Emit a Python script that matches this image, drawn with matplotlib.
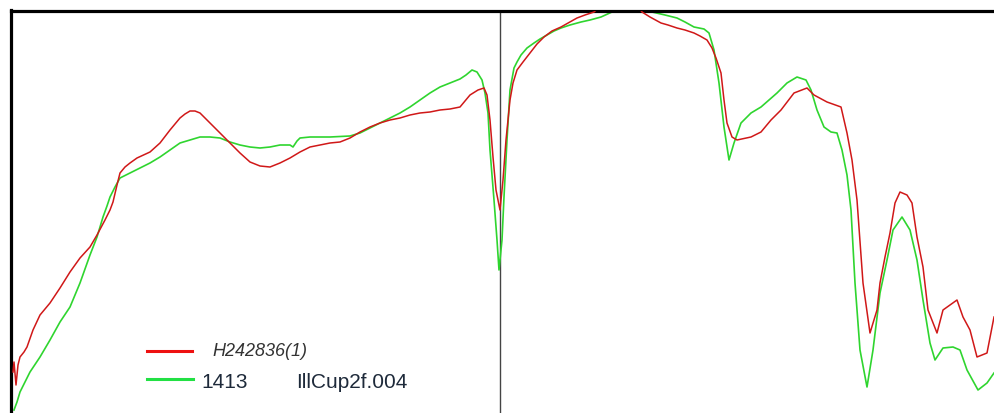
import matplotlib
matplotlib.use("Agg")
import matplotlib.pyplot as plt
from matplotlib.lines import Line2D

# values (x position, depth from the top frame)
red_x = [13, 14, 16, 18, 20, 24, 27, 33, 40, 50, 60, 70, 80, 90, 97, 105, 110,
         113, 117, 120, 125, 130, 137, 150, 160, 170, 180, 185, 190, 195, 200,
         210, 220, 230, 240, 250, 260, 270, 280, 290, 300, 310, 320, 330, 340,
         350, 360, 370, 380, 390, 400, 410, 420, 430, 440, 450, 460, 470, 478,
         484, 487, 490, 493, 496, 500, 503, 506, 510, 513, 517, 523, 530, 537,
         544, 552, 561, 570, 577, 585, 594, 605, 620, 635, 642, 650, 661, 668,
         677, 685, 694, 700, 707, 712, 716, 721, 724, 727, 732, 737, 751, 761,
         771, 781, 794, 807, 814, 827, 841, 847, 852, 857, 863, 870, 877, 880,
         885, 890, 895, 900, 907, 912, 917, 923, 928, 937, 943, 950, 957, 963,
         970, 977, 987, 994]
red_y = [372, 362, 385, 365, 357, 352, 347, 330, 315, 303, 288, 272, 258, 247,
         235, 220, 210, 202, 185, 173, 167, 163, 158, 152, 143, 130, 118, 114,
         111, 111, 113, 123, 133, 143, 153, 162, 166, 167, 163, 158, 152, 147,
         145, 143, 142, 138, 132, 127, 123, 120, 118, 115, 113, 112, 110, 109,
         107, 95, 90, 88, 95, 120, 157, 190, 210, 180, 140, 100, 83, 70, 62,
         53, 44, 37, 31, 27, 22, 18, 15, 12, 2, -3, 2, 12, 17, 23, 25, 28, 30,
         33, 36, 40, 48, 58, 73, 100, 123, 137, 140, 137, 132, 120, 110, 93,
         88, 95, 102, 107, 133, 160, 200, 283, 333, 310, 283, 257, 233, 203,
         192, 195, 203, 237, 267, 310, 333, 310, 305, 300, 317, 330, 357, 353,
         317]

green_x = [14, 17, 20, 30, 40, 50, 60, 70, 80, 90, 97, 103, 107, 110, 115, 120,
           130, 140, 150, 160, 170, 180, 190, 200, 210, 220, 230, 240, 250, 260,
           270, 280, 290, 293, 297, 300, 310, 330, 350, 360, 370, 380, 390, 400,
           410, 420, 430, 440, 450, 460, 466, 472, 477, 482, 485, 488, 490, 494,
           497, 499, 502, 504, 507, 510, 514, 517, 521, 527, 534, 540, 547, 554,
           561, 570, 581, 590, 601, 612, 625, 640, 652, 665, 677, 685, 694, 704,
           709, 714, 719, 724, 729, 734, 741, 751, 761, 777, 787, 797, 806, 811,
           817, 824, 831, 837, 842, 847, 851, 855, 860, 867, 873, 880, 887, 893,
           902, 910, 917, 923, 930, 935, 943, 953, 960, 967, 978, 987, 994]
green_y = [410, 402, 392, 372, 357, 340, 322, 307, 283, 255, 237, 217, 206, 197,
           187, 178, 173, 168, 163, 157, 150, 143, 140, 137, 137, 138, 142, 145,
           147, 148, 147, 145, 145, 147, 141, 138, 137, 137, 136, 133, 128, 123,
           118, 113, 107, 100, 93, 87, 83, 79, 75, 70, 72, 80, 93, 113, 150,
           200, 240, 270, 240, 197, 140, 90, 68, 62, 55, 48, 43, 39, 35, 31, 28,
           25, 22, 20, 17, 12, 3, 3, 12, 15, 18, 22, 27, 29, 33, 50, 83, 127,
           160, 143, 123, 113, 107, 93, 83, 77, 80, 90, 110, 127, 132, 133, 150,
           175, 210, 283, 350, 387, 350, 293, 260, 230, 217, 230, 260, 300, 343,
           360, 348, 347, 350, 370, 390, 383, 373]

marker_x = 500
red_label = "H242836(1)"
green_labels = ["1413", "IllCup2f.004"]

W, H = 994, 413
fig = plt.figure(figsize=(W / 100, H / 100), dpi=100)
fig.patch.set_facecolor("white")

# frame is cropped: only the left and top edges are inside the picture
left, top = 10.5, 10.5
right, bottom = 1012, 433
ax = fig.add_axes([left / W, 1 - bottom / H, (right - left) / W, (bottom - top) / H])
ax.set_xlim(left, right)
ax.set_ylim(bottom, top)
ax.set_xticks([])
ax.set_yticks([])
for s in ax.spines.values():
    s.set_linewidth(2.3)
    s.set_color("black")

red = "#d01818"
green = "#2fd52f"

ax.axvline(marker_x, color="#444444", lw=1.0, zorder=1)
ax.plot(green_x, green_y, color=green, lw=1.2, zorder=2)
ax.plot(red_x, red_y, color=red, lw=1.1, zorder=3)

# hand-placed legend
fig.lines.append(Line2D([147 / W, 192 / W], [1 - 351 / H, 1 - 351 / H],
                        transform=fig.transFigure, color="#ee1111", lw=2.2))
fig.lines.append(Line2D([147 / W, 193 / W], [1 - 379 / H, 1 - 379 / H],
                        transform=fig.transFigure, color="#22e044", lw=2.2))
fig.text(212 / W, 1 - 351 / H, red_label, fontsize=13, style="italic",
         family="Liberation Sans", color="#333333", va="center", ha="left")
fig.text(201 / W, 1 - 382 / H, green_labels[0], fontsize=15,
         family="Liberation Sans", color="#1e2a3a", va="center", ha="left")
fig.text(296 / W, 1 - 382 / H, green_labels[1], fontsize=15,
         family="Liberation Sans", color="#1e2a3a", va="center", ha="left")

fig.savefig("out.png", dpi=100)
